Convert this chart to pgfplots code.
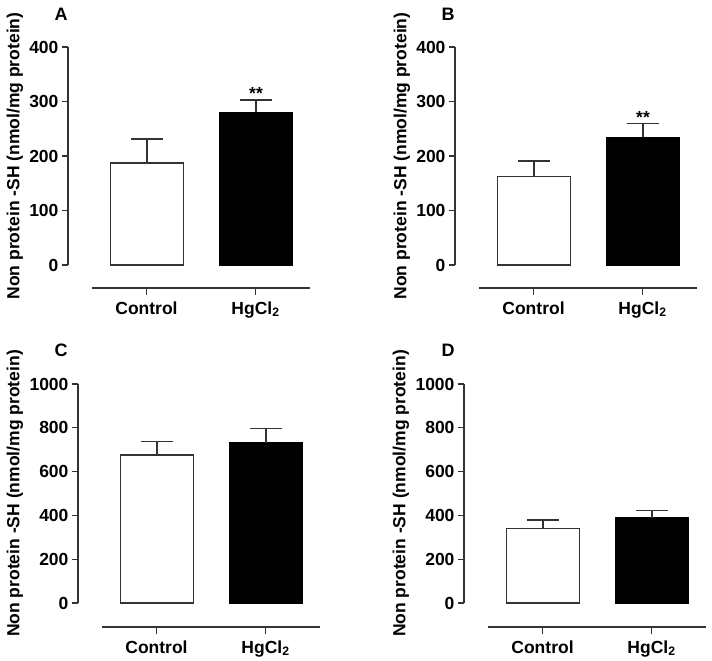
\documentclass[border=0pt]{standalone}
\usepackage{pgfplots}
\pgfplotsset{compat=1.18}
\usepackage{fontspec}
\setmainfont{Liberation Sans}
\definecolor{axgray}{HTML}{333333}

\pgfplotsset{
  yaxstyle/.style={
    scale only axis, width=242.5pt, height=218pt,
    xmin=-0.725, xmax=1.5, ymin=0,
    axis y line=left, axis x line=none,
    y axis line style={-, line width=1.3pt, color=axgray},
    ytick style={line width=1.3pt, color=axgray},
    tick align=outside, major tick length=6pt,
    yticklabel style={font=\fontsize{17.5}{20}\selectfont\bfseries, color=black, /pgf/number format/set thousands separator={}},
    /pgf/number format/assume math mode=true,
    enlargelimits=false, clip=false,
    ylabshift/.initial=-53pt,
    every axis y label/.style={at={(rel axis cs:0,0.5)}, xshift=\pgfkeysvalueof{/pgfplots/ylabshift}, rotate=90, anchor=center, font=\fontsize{17.5}{20}\selectfont\bfseries},
    ylabel={Non protein -SH (nmol/mg protein)},
    error bars/error bar style={line width=1.3pt, color=axgray},
    error bars/error mark options={rotate=90, mark size=16pt, line width=1.3pt, color=axgray},
  },
  xaxstyle/.style={
    scale only axis, width=218pt, height=10pt,
    xmin=-0.5, xmax=1.5, ymin=0, ymax=1,
    axis x line=bottom, axis y line=none,
    x axis line style={-, line width=1.3pt, color=axgray},
    xtick={0,1}, xticklabels={Control, HgCl\textsubscript{2}},
    xtick style={line width=1.3pt, color=axgray},
    tick align=outside, major tick length=7pt,
    xticklabel style={font=\fontsize{17.5}{20}\selectfont\bfseries, color=black, yshift=-3pt},
  },
  ctrlbar/.style={ybar, bar shift=0pt, bar width=72.5pt, fill=white, draw=axgray, line width=1.3pt,
    error bars/.cd, y dir=plus, y explicit},
  hgbar/.style={ybar, bar shift=0pt, bar width=72.5pt, fill=black, draw=black, line width=1.3pt,
    error bars/.cd, y dir=plus, y explicit},
}

\begin{document}
\begin{tikzpicture}
\path[use as bounding box] (0pt,0pt) rectangle (712pt,-661pt);

% Panel A
\begin{axis}[yaxstyle, at={(68pt,-265pt)}, anchor=south west, ymax=400, ytick={0,100,200,300,400}]
\addplot[ctrlbar] coordinates {(0,187) +- (0,44)};
\addplot[hgbar] coordinates {(1,280) +- (0,23)};
\node[anchor=base, font=\fontsize{17.5}{20}\selectfont\bfseries] at (axis cs:1,303) {**};
\end{axis}
\begin{axis}[xaxstyle, at={(92pt,-288pt)}, anchor=south west]
\end{axis}
\node[font=\fontsize{18}{20}\selectfont\bfseries] at (61pt,-14pt) {A};

% Panel B
\begin{axis}[yaxstyle, at={(455pt,-265pt)}, anchor=south west, ymax=400, ytick={0,100,200,300,400}]
\addplot[ctrlbar] coordinates {(0,163) +- (0,28)};
\addplot[hgbar] coordinates {(1,234) +- (0,26)};
\node[anchor=base, font=\fontsize{17.5}{20}\selectfont\bfseries] at (axis cs:1,260) {**};
\end{axis}
\begin{axis}[xaxstyle, at={(479pt,-288pt)}, anchor=south west]
\end{axis}
\node[font=\fontsize{18}{20}\selectfont\bfseries] at (448pt,-14pt) {B};

% Panel C
\begin{axis}[yaxstyle, ylabshift=-63pt, at={(78pt,-603pt)}, anchor=south west, height=219pt, ymax=1000, ytick={0,200,400,600,800,1000}]
\addplot[ctrlbar] coordinates {(0,676) +- (0,61)};
\addplot[hgbar] coordinates {(1,732) +- (0,66)};
\end{axis}
\begin{axis}[xaxstyle, at={(102pt,-627pt)}, anchor=south west]
\end{axis}
\node[font=\fontsize{18}{20}\selectfont\bfseries] at (61pt,-350pt) {C};

% Panel D
\begin{axis}[yaxstyle, ylabshift=-63pt, at={(464pt,-603pt)}, anchor=south west, height=219pt, ymax=1000, ytick={0,200,400,600,800,1000}]
\addplot[ctrlbar] coordinates {(0,341) +- (0,38)};
\addplot[hgbar] coordinates {(1,390) +- (0,33)};
\end{axis}
\begin{axis}[xaxstyle, at={(488pt,-627pt)}, anchor=south west]
\end{axis}
\node[font=\fontsize{18}{20}\selectfont\bfseries] at (448pt,-350pt) {D};

\end{tikzpicture}
\end{document}
